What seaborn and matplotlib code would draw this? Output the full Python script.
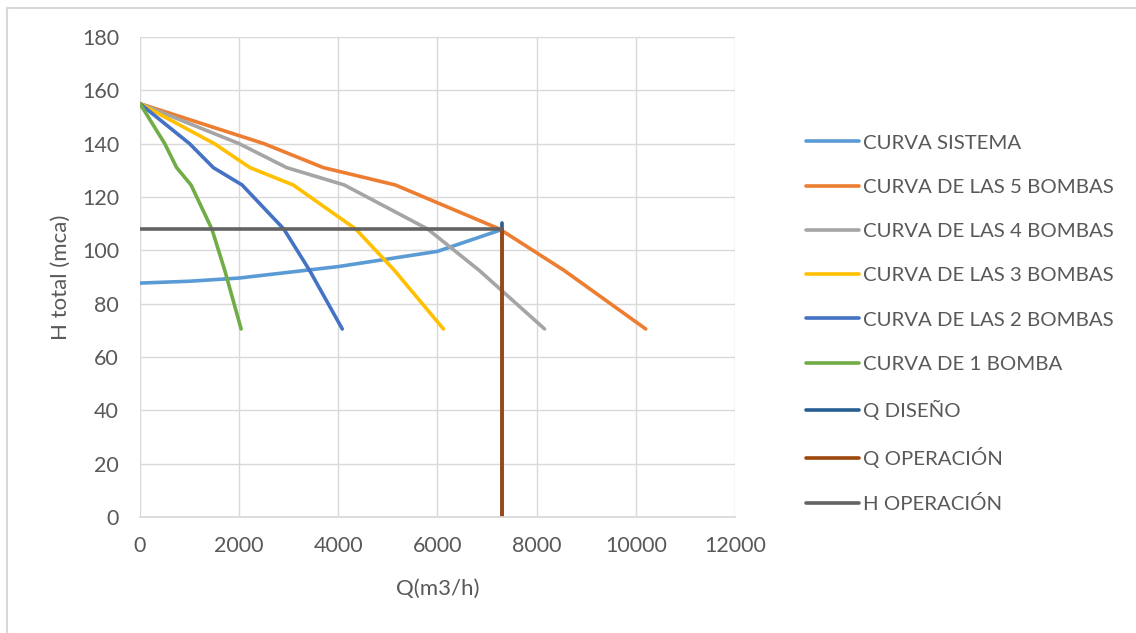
import matplotlib
matplotlib.use("Agg")
import matplotlib.pyplot as plt
from matplotlib.lines import Line2D
import seaborn as sns

# curvas de bombas (caudal m3/h vs altura mca)
h_bombas = [155, 140, 131, 124.5, 108, 92.5, 70.5]
q_5 = [0, 2500, 3700, 5150, 7250, 8550, 10200]
q_4 = [0, 2000, 2960, 4120, 5800, 6840, 8160]
q_3 = [0, 1500, 2220, 3090, 4350, 5130, 6120]
q_2 = [0, 1000, 1480, 2060, 2900, 3420, 4080]
q_1 = [0, 500, 740, 1030, 1450, 1710, 2040]

# curva del sistema
q_sis = [0, 1000, 2000, 4000, 6000, 7300]
h_sis = [87.7, 88.4, 89.6, 93.9, 99.6, 107.8]

# puntos de operacion / diseno
q_dis_x = [7300, 7300]
q_dis_y = [0, 110.2]
q_op_x = [7300, 7300]
q_op_y = [0, 108]
h_op_x = [0, 7300]
h_op_y = [108, 108]

sns.set_theme(style="white")
plt.rcParams['font.family'] = ['Lato', 'DejaVu Sans']
txt = "#595959"
grid = "#d9d9d9"

fig = plt.figure(figsize=(11.36, 6.33), dpi=100)
ax = fig.add_axes([0.1232, 0.1833, 0.5238, 0.7583])

series = [
    (q_sis, h_sis, "#5B9BD5", "CURVA SISTEMA"),
    (q_5, h_bombas, "#ED7D31", "CURVA DE LAS 5 BOMBAS"),
    (q_4, h_bombas, "#A5A5A5", "CURVA DE LAS 4 BOMBAS"),
    (q_3, h_bombas, "#FFC000", "CURVA DE LAS 3 BOMBAS"),
    (q_2, h_bombas, "#4472C4", "CURVA DE LAS 2 BOMBAS"),
    (q_1, h_bombas, "#70AD47", "CURVA DE 1 BOMBA"),
    (q_dis_x, q_dis_y, "#255E91", "Q DISEÑO"),
    (q_op_x, q_op_y, "#9E480E", "Q OPERACIÓN"),
    (h_op_x, h_op_y, "#636363", "H OPERACIÓN"),
]
for x, y, c, lab in series:
    sns.lineplot(x=x, y=y, color=c, label=lab, sort=False, estimator=None,
                 linewidth=2.6, ax=ax, legend=False)

ax.set_xlim(0, 12000)
ax.set_ylim(0, 180)
ax.set_xticks(range(0, 12001, 2000))
ax.set_yticks(range(0, 181, 20))
ax.grid(True, color=grid, linewidth=1)
ax.set_axisbelow(True)
for s in ["top", "right", "left"]:
    ax.spines[s].set_visible(False)
ax.spines["bottom"].set_color(grid)
ax.tick_params(axis="both", length=0, labelsize=15.5, colors=txt)
ax.tick_params(axis="y", pad=15)
ax.tick_params(axis="x", pad=14)
ax.set_xlabel("Q(m3/h)", fontsize=16, color=txt, labelpad=16)
ax.set_ylabel("H total (mca)", fontsize=16, color=txt, labelpad=8)

handles = [Line2D([], [], color=c, linewidth=2.6) for _, _, c, _ in series]
labels = [lab for _, _, _, lab in series]
leg = fig.legend(handles, labels, loc="center left",
                 bbox_to_anchor=(0.7095, 0.489), frameon=False,
                 fontsize=14.7, handlelength=2.6, handletextpad=0.2,
                 labelspacing=1.32, borderpad=0, borderaxespad=0)
for t in leg.get_texts():
    t.set_color(txt)

# borde del area del grafico
fig.add_artist(Line2D([0.0062, 0.0062], [0, 0.987], transform=fig.transFigure,
                      color=grid, linewidth=1.5))
fig.add_artist(Line2D([0.0062, 1], [0.987, 0.987], transform=fig.transFigure,
                      color=grid, linewidth=1.5))

fig.savefig("out.png", dpi=100)
